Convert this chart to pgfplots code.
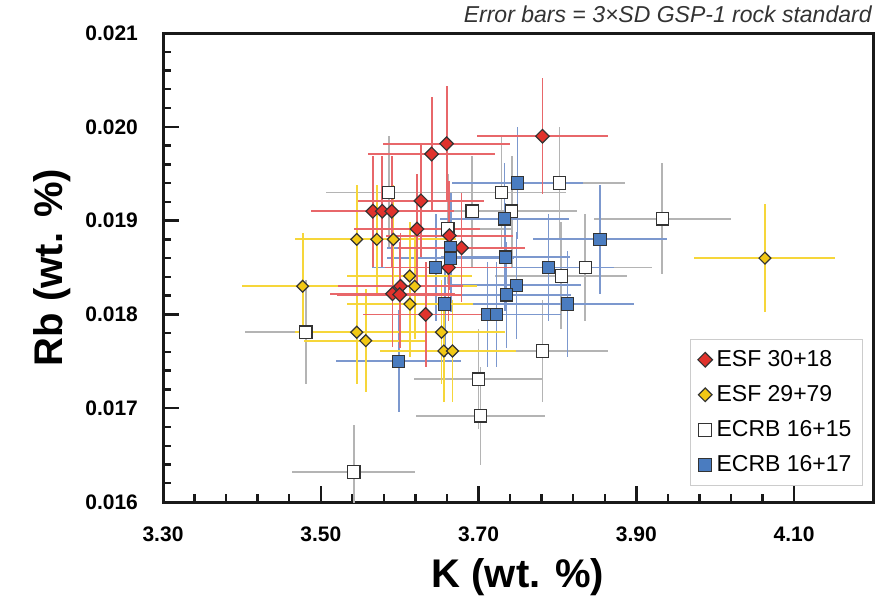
\documentclass[border=0pt]{standalone}
\usepackage{pgfplots}
\pgfplotsset{compat=1.18}
\usepackage{fontspec}
\setmainfont{Liberation Sans}

\definecolor{redfill}{HTML}{E0322C}
\definecolor{redbar}{HTML}{E8676A}
\definecolor{yelfill}{HTML}{F2C814}
\definecolor{yelbar}{HTML}{F6D63A}
\definecolor{greybar}{HTML}{B4B4B4}
\definecolor{bluefill}{HTML}{4A7CC0}
\definecolor{bluebar}{HTML}{7C98CE}
\definecolor{markedge}{HTML}{333333}

% ESF 30+18
\pgfplotstableread{
x y
3.6405 0.01971
3.6595 0.01982
3.7810 0.01990
3.6270 0.01921
3.5660 0.01910
3.5780 0.01910
3.5900 0.01910
3.6220 0.01891
3.6630 0.01884
3.6785 0.01871
3.6620 0.01850
3.6010 0.01830
3.5910 0.01822
3.6000 0.01821
3.6330 0.01800
}\esfA

% ESF 29+79
\pgfplotstableread{
x y
3.4770 0.01830
3.5456 0.01880
3.5710 0.01880
3.5920 0.01880
3.6127 0.01841
3.6190 0.01830
3.6130 0.01811
3.5456 0.01781
3.5570 0.01772
3.6530 0.01781
3.6560 0.01761
3.6670 0.01761
4.0630 0.01860
}\esfB

% ECRB 16+15
\pgfplotstableread{
x y
3.5418 0.01632
3.4810 0.01781
3.5860 0.01930
3.6610 0.01891
3.6920 0.01910
3.7290 0.01930
3.7420 0.01910
3.8025 0.01940
3.8354 0.01850
3.8050 0.01841
3.9330 0.01902
3.7810 0.01761
3.7000 0.01731
3.7025 0.01692
}\ecrbA

% ECRB 16+17
\pgfplotstableread{
x y
3.7494 0.01940
3.7330 0.01902
3.6646 0.01871
3.6646 0.01860
3.7340 0.01861
3.8540 0.01880
3.7886 0.01850
3.7480 0.01831
3.7354 0.01821
3.8127 0.01811
3.7114 0.01800
3.7228 0.01800
3.6456 0.01850
3.6570 0.01811
3.5987 0.01750
}\ecrbB

\begin{document}
\begin{tikzpicture}
\begin{axis}[
    name=ax,
    scale only axis,
    width=355pt, height=234.5pt,
    xmin=3.30, xmax=4.20,
    ymin=0.016, ymax=0.021,
    xtick={3.30,3.50,3.70,3.90,4.10},
    ytick={0.016,0.017,0.018,0.019,0.020,0.021},
    minor x tick num=4, minor y tick num=4,
    xtick pos=bottom, ytick pos=left,
    tick align=inside,
    major tick length=8pt, minor tick length=4pt,
    axis line style={line width=1.5pt, black!90},
    tick style={line width=1.2pt, black!90},
    scaled x ticks=false, scaled y ticks=false,
    /pgf/number format/assume math mode=true,
    xticklabel style={/pgf/number format/.cd, fixed, fixed zerofill, precision=2, /tikz/.cd,
        font=\bfseries\fontsize{10.5}{12}\selectfont, yshift=-9pt},
    yticklabel style={/pgf/number format/.cd, fixed, fixed zerofill, precision=3, /tikz/.cd,
        font=\bfseries\fontsize{10.5}{12}\selectfont, xshift=-9pt},
    xlabel={K (wt. \%)},
    ylabel={Rb (wt. \%)},
    xlabel style={font=\bfseries\fontsize{20}{24}\selectfont, at={(axis description cs:0.5,-0.16)}, anchor=center},
    ylabel style={font=\bfseries\fontsize{20}{24}\selectfont, at={(axis description cs:-0.156,0.5)}, anchor=center},
    legend style={at={(0.986,0.034)}, anchor=south east, draw=black!20, line width=0.6pt,
        font=\fontsize{11.5}{13}\selectfont, row sep=4pt, inner sep=3.5pt},
    legend cell align=left,
]
\addlegendimage{only marks, mark=square*, mark options={rotate=45, fill=redfill, draw=markedge, line width=0.6pt}, mark size=2.6pt}
\addlegendentry{ESF 30+18}
\addlegendimage{only marks, mark=square*, mark options={rotate=45, fill=yelfill, draw=markedge, line width=0.6pt}, mark size=2.4pt}
\addlegendentry{ESF 29+79}
\addlegendimage{only marks, mark=square*, mark options={fill=white, draw=markedge, line width=0.6pt}, mark size=3.3pt}
\addlegendentry{ECRB 16+15}
\addlegendimage{only marks, mark=square*, mark options={fill=bluefill, draw=markedge, line width=0.6pt}, mark size=3.3pt}
\addlegendentry{ECRB 16+17}

% error bars first
\addplot[forget plot, only marks, mark=none,
    error bars/.cd, x dir=both, x fixed relative=0.022, y dir=both, y fixed relative=0.031,
    error mark=none, error bar style={line width=0.9pt, greybar}] table {\ecrbA};
\addplot[forget plot, only marks, mark=none,
    error bars/.cd, x dir=both, x fixed relative=0.022, y dir=both, y fixed relative=0.031,
    error mark=none, error bar style={line width=0.9pt, bluebar}] table {\ecrbB};
\addplot[forget plot, only marks, mark=none,
    error bars/.cd, x dir=both, x fixed relative=0.022, y dir=both, y fixed relative=0.031,
    error mark=none, error bar style={line width=0.9pt, yelbar}] table {\esfB};
\addplot[forget plot, only marks, mark=none,
    error bars/.cd, x dir=both, x fixed relative=0.022, y dir=both, y fixed relative=0.031,
    error mark=none, error bar style={line width=0.9pt, redbar}] table {\esfA};

% then markers
\addplot[forget plot, only marks, mark=square*, mark size=3.1pt,
    mark options={fill=white, draw=markedge, line width=0.6pt}] table {\ecrbA};
\addplot[forget plot, only marks, mark=square*, mark size=2.1pt,
    mark options={rotate=45, fill=yelfill, draw=markedge, line width=0.6pt}] table {\esfB};
\addplot[forget plot, only marks, mark=square*, mark size=2.4pt,
    mark options={rotate=45, fill=redfill, draw=markedge, line width=0.6pt}] table {\esfA};
\addplot[forget plot, only marks, mark=square*, mark size=3.1pt,
    mark options={fill=bluefill, draw=markedge, line width=0.6pt}] table {\ecrbB};
\end{axis}
\node[anchor=base east, inner sep=0pt, font=\itshape\fontsize{11.5}{13}\selectfont, text=black!80]
    at ([xshift=-0.5pt, yshift=5.5pt]ax.north east) {Error bars = 3×SD GSP-1 rock standard};
\pgfresetboundingbox
\path[use as bounding box] ([xshift=-81.5pt, yshift=-46.5pt]ax.south west) rectangle ++(443pt,297.5pt);
\end{tikzpicture}
\end{document}
